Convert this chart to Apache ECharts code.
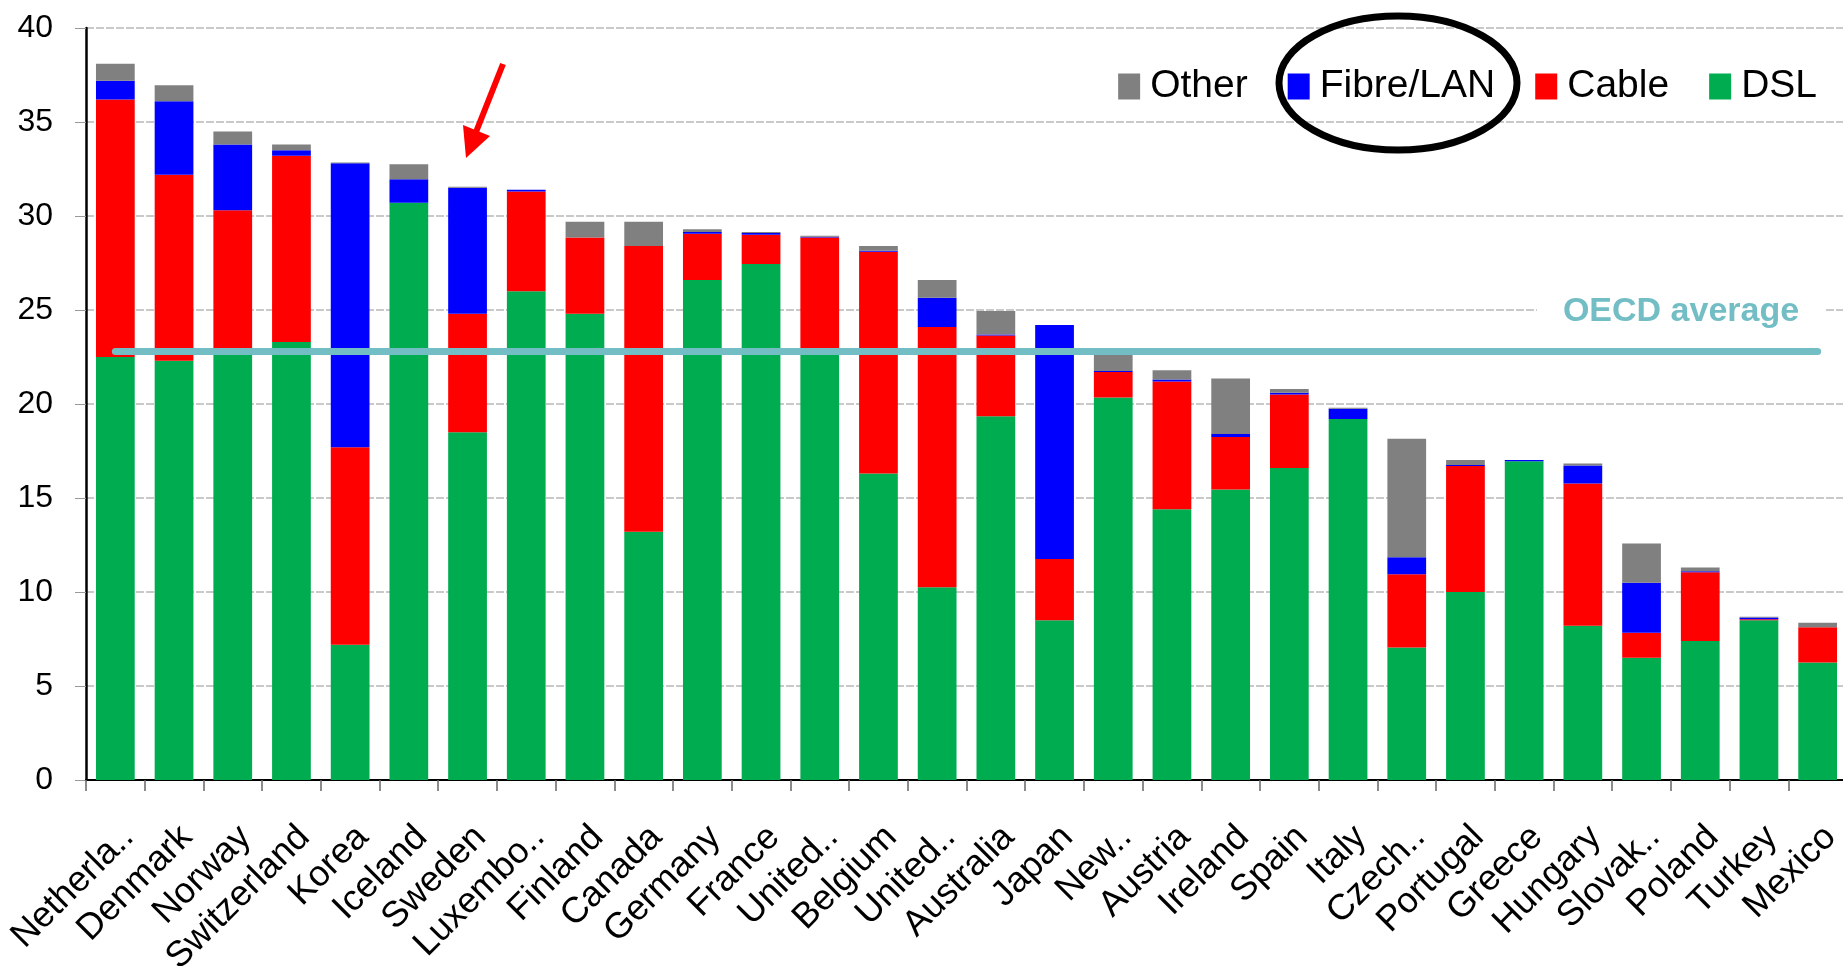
<!DOCTYPE html>
<html>
<head>
<meta charset="utf-8">
<title>Broadband subscribers per 100 inhabitants, by technology</title>
<script src="https://cdn.jsdelivr.net/npm/echarts@6/dist/echarts.min.js"></script>
<style>
  html, body { margin: 0; padding: 0; background: #ffffff; }
  #chart { width: 1843px; height: 974px; }
</style>
</head>
<body>
<div id="chart"></div>
<script>
// Countries, in the order plotted
const countries = ['Netherlands', 'Denmark', 'Norway', 'Switzerland', 'Korea', 'Iceland', 'Sweden',
  'Luxembourg', 'Finland', 'Canada', 'Germany', 'France', 'United Kingdom', 'Belgium', 'United States',
  'Australia', 'Japan', 'New Zealand', 'Austria', 'Ireland', 'Spain', 'Italy', 'Czech Republic',
  'Portugal', 'Greece', 'Hungary', 'Slovak Republic', 'Poland', 'Turkey', 'Mexico'];

// Axis tick labels (shortened names as printed)
const tickLabels = ['Netherla..', 'Denmark', 'Norway', 'Switzerland', 'Korea', 'Iceland', 'Sweden',
  'Luxembo..', 'Finland', 'Canada', 'Germany', 'France', 'United..', 'Belgium', 'United..',
  'Australia', 'Japan', 'New..', 'Austria', 'Ireland', 'Spain', 'Italy', 'Czech..',
  'Portugal', 'Greece', 'Hungary', 'Slovak..', 'Poland', 'Turkey', 'Mexico'];

// Subscribers per 100 inhabitants, by technology
const dsl   = [22.5, 22.3, 22.9, 23.3, 7.2, 30.7, 18.5, 26.0, 24.8, 13.2, 26.6, 27.45, 22.8, 16.3, 10.25,
               19.35, 8.5, 20.35, 14.4, 15.45, 16.6, 19.2, 7.05, 10.0, 16.95, 8.2, 6.5, 7.4, 8.5, 6.25];
const cable = [13.7, 9.9, 7.4, 9.9, 10.5, 0, 6.3, 5.3, 4.05, 15.2, 2.45, 1.55, 6.05, 11.8, 13.85,
               4.3, 3.25, 1.35, 6.8, 2.8, 3.9, 0, 3.9, 6.7, 0, 7.57, 1.33, 3.65, 0.05, 1.87];
const fibre = [1.0, 3.9, 3.5, 0.3, 15.1, 1.25, 6.7, 0.1, 0, 0, 0.1, 0.1, 0.05, 0.05, 1.55,
               0.05, 12.45, 0.05, 0.1, 0.15, 0.1, 0.55, 0.9, 0.05, 0.07, 0.96, 2.66, 0.05, 0.1, 0];
const other = [0.9, 0.85, 0.7, 0.3, 0.05, 0.8, 0.05, 0, 0.85, 1.3, 0.15, 0.05, 0.05, 0.25, 0.95,
               1.25, 0, 0.95, 0.5, 2.95, 0.2, 0.05, 6.3, 0.27, 0, 0.1, 2.09, 0.2, 0.03, 0.25];

const oecdAverage = 22.78;
const yTicks = [0, 5, 10, 15, 20, 25, 30, 35, 40];

const FONT = 'Liberation Sans, Arial, sans-serif';
const AVG_COLOR = '#72BEC4';

const chart = echarts.init(document.getElementById('chart'), null, { renderer: 'canvas' });

function barSeries(name, data, color) {
  return {
    name: name,
    type: 'bar',
    stack: 'total',
    data: data,
    barWidth: '66%',
    itemStyle: { color: color },
    emphasis: { disabled: true }
  };
}

const dslSeries = barSeries('DSL', dsl, '#00AC50');
dslSeries.markLine = {
  silent: true,
  symbol: ['none', 'none'],
  z: 6,
  label: { show: false },
  lineStyle: { color: AVG_COLOR, width: 7, type: 'solid', cap: 'round' },
  data: [[
    { coord: [0, oecdAverage] },
    { coord: [countries.length - 1, oecdAverage] }
  ]]
};

const option = {
  animation: false,
  backgroundColor: '#ffffff',
  grid: {
    left: 86, top: 28, width: 1761, height: 752,
    containLabel: false, outerBoundsMode: 'none'
  },
  legend: {
    data: ['Other', 'Fibre/LAN', 'Cable', 'DSL'],
    right: 21,
    top: 62,
    itemWidth: 22,
    itemHeight: 26,
    itemGap: 40,
    icon: 'rect',
    selectedMode: false,
    textStyle: {
      fontFamily: FONT, fontSize: 39, color: '#000000',
      lineHeight: 26, padding: [0, 0, 0, 5]
    }
  },
  xAxis: {
    type: 'category',
    data: countries,
    axisLine: { lineStyle: { color: '#000000', width: 2 } },
    axisTick: { show: true, length: 11, lineStyle: { color: '#666666', width: 1.5 } },
    axisLabel: {
      interval: 0,
      rotate: 45,
      margin: 39,
      verticalAlign: 'top',
      fontFamily: FONT,
      fontSize: 36,
      color: '#000000',
      formatter: function (value, index) { return tickLabels[index]; }
    },
    splitLine: { show: false }
  },
  yAxis: {
    type: 'value',
    min: yTicks[0],
    max: yTicks[yTicks.length - 1],
    interval: 5,
    axisLine: { show: true, lineStyle: { color: '#000000', width: 2.5 } },
    axisTick: { show: true, length: 11, lineStyle: { color: '#999999', width: 1 } },
    axisLabel: { margin: 33, fontFamily: FONT, fontSize: 32, color: '#000000' },
    splitLine: { show: true, lineStyle: { color: '#b8b8b8', width: 1.5, type: [8, 2] } }
  },
  series: [
    dslSeries,
    barSeries('Cable', cable, '#FF0000'),
    barSeries('Fibre/LAN', fibre, '#0000FF'),
    barSeries('Other', other, '#808080')
  ],
  graphic: [
    {
      // label for the average line
      type: 'text',
      z: 10,
      style: {
        text: 'OECD average',
        x: 1681, y: 312,
        align: 'center', verticalAlign: 'middle',
        font: 'bold 34px ' + FONT,
        fill: AVG_COLOR,
        backgroundColor: '#ffffff',
        padding: [3, 26]
      }
    },
    {
      // ring drawn around the Fibre/LAN legend entry
      type: 'ellipse',
      z: 10,
      shape: { cx: 1398, cy: 83, rx: 119, ry: 67 },
      style: { fill: 'none', stroke: '#000000', lineWidth: 7 }
    },
    {
      // pointer arrow over Sweden
      type: 'line',
      z: 10,
      shape: { x1: 503, y1: 64, x2: 476, y2: 132 },
      style: { stroke: '#FF0000', lineWidth: 6 }
    },
    {
      type: 'polygon',
      z: 10,
      shape: { points: [[466, 158], [463, 125], [490, 136]] },
      style: { fill: '#FF0000' }
    }
  ]
};

chart.setOption(option);
</script>
</body>
</html>
